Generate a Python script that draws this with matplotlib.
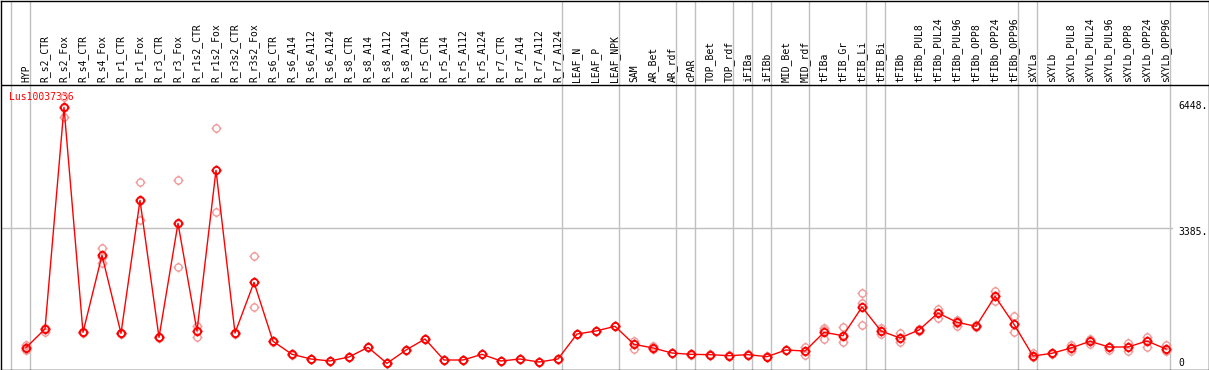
import matplotlib
matplotlib.use("Agg")
import matplotlib.pyplot as plt
from matplotlib.path import Path
import numpy as np

title = "Lus10037336"
categories = [
    "HYP", "R_s2_CTR", "R_s2_Fox", "R_s4_CTR", "R_s4_Fox", "R_r1_CTR", "R_r1_Fox",
    "R_r3_CTR", "R_r3_Fox", "R_r1s2_CTR", "R_r1s2_Fox", "R_r3s2_CTR", "R_r3s2_Fox",
    "R_s6_CTR", "R_s6_A14", "R_s6_A112", "R_s6_A124", "R_s8_CTR", "R_s8_A14",
    "R_s8_A112", "R_s8_A124", "R_r5_CTR", "R_r5_A14", "R_r5_A112", "R_r5_A124",
    "R_r7_CTR", "R_r7_A14", "R_r7_A112", "R_r7_A124", "LEAF_N", "LEAF_P", "LEAF_NPK",
    "SAM", "AR_Bet", "AR_rdf", "cPAR", "TOP_Bet", "TOP_rdf", "iFIBa", "iFIBb",
    "MID_Bet", "MID_rdf", "tFIBa", "tFIB_Gr", "tFIB_Li", "tFIB_Bi", "tFIBb",
    "tFIBb_PUL8", "tFIBb_PUL24", "tFIBb_PUL96", "tFIBb_OPP8", "tFIBb_OPP24",
    "tFIBb_OPP96", "sXYLa", "sXYLb", "sXYLb_PUL8", "sXYLb_PUL24", "sXYLb_PUL96",
    "sXYLb_OPP8", "sXYLb_OPP24", "sXYLb_OPP96",
]

mean_values = [
    492, 945, 6317, 865, 2730, 840, 4063, 743, 3506, 896, 4790, 848, 2076,
    647, 332, 218, 170, 267, 501, 113, 436, 703, 194, 194, 331, 170, 218, 145, 218,
    824, 897, 1010, 574, 485, 363, 331, 323, 299, 323, 275, 436, 412,
    864, 783, 1478, 897, 727, 921, 1333, 1107, 1010, 1737, 1059,
    291, 356, 485, 647, 509, 509, 654, 460,
]

replicate_a = [
    557, 960, 6560, 880, 2908, 850, 4499, 750, 4548, 1025, 5808, 860, 2706,
    655, 340, 218, 170, 267, 501, 113, 436, 703, 194, 194, 331, 170, 218, 145, 218,
    824, 897, 1010, 662, 533, 370, 340, 330, 310, 335, 280, 445, 501,
    977, 985, 1810, 962, 840, 940, 1430, 1163, 1030, 1866, 1267,
    356, 370, 565, 711, 520, 598, 759, 557,
]

replicate_b = [
    436, 880, 6074, 850, 2552, 830, 3586, 735, 2440, 759, 3772, 835, 1471,
    640, 325, 218, 170, 267, 501, 113, 436, 703, 194, 194, 331, 170, 218, 145, 218,
    824, 897, 1010, 468, 453, 355, 320, 315, 290, 310, 270, 430, 315,
    703, 638, 1042, 824, 620, 905, 1219, 1026, 990, 1623, 865,
    270, 340, 404, 582, 436, 404, 517, 412,
]

replicate_c = [
    500, 950, 6300, 870, 2700, 845, 4050, 745, 3500, 900, 4800, 850, 2080,
    650, 335, 218, 170, 267, 501, 113, 436, 703, 194, 194, 331, 170, 218, 145, 218,
    824, 897, 1010, 570, 490, 365, 330, 325, 300, 325, 275, 440, 410,
    921, 790, 1567, 900, 730, 920, 1330, 1100, 1010, 1740, 1060,
    290, 356, 490, 650, 510, 510, 650, 470,
]

group_starts = [0, 1, 29, 32, 35, 36, 38, 39, 40, 42, 45, 46, 53, 54, 61]
axis_labels = [6448, 3385, 0]
grid_value = 3385

W, H = 1209, 370
fig = plt.figure(figsize=(W / 100, H / 100), dpi=100)

px0, step = 26.0, 19.0
row0, scale = 368.0, 0.04127


def xd(px):
    return (px - px0) / step


def yd(row):
    return (row0 - row) / scale


ax = fig.add_axes([0.5 / W, 0.5 / H, 1208.0 / W, 369.0 / H])
ax.set_xlim(xd(0.5), xd(1208.5))
ax.set_ylim(yd(369.5), yd(0.5))
ax.set_xticks([])
ax.set_yticks([])
for s in ax.spines.values():
    s.set_color("black")
    s.set_linewidth(1.0)

grey = "#c0c0c0"
x = np.arange(len(categories))
off = 15.0 / step
for g in group_starts:
    ax.axvline(g - off, color=grey, lw=1.0, zorder=1)

ax.axhline(yd(85), color="black", lw=1.0, zorder=2)
ax.plot([xd(0.5), xd(1172)], [grid_value, grid_value], color=grey, lw=1.0, zorder=1)

mono = "DejaVu Sans Mono"
for i, lab in enumerate(categories):
    ax.text(i, yd(82.5), lab, rotation=90, ha="center", va="bottom",
            fontsize=7, family=mono, color="black")

ax.text(xd(9), yd(92), title, ha="left", va="top", fontsize=7, family=mono, color="red")

for v in axis_labels:
    if v == 0:
        ax.text(xd(1178), yd(367.5), "0", ha="left", va="bottom", fontsize=7, family=mono)
    else:
        ax.text(xd(1178), yd(row0 - v * scale - 1.0), f"{v}.", ha="left", va="top",
                fontsize=7, family=mono)

# circle marker with four short ticks outside
circ = Path.unit_circle()
t0, t1 = 1.0, 1.4
ticks = Path([(0, t0), (0, t1), (0, -t0), (0, -t1), (t0, 0), (t1, 0), (-t0, 0), (-t1, 0)],
             [Path.MOVETO, Path.LINETO] * 4)
tick_circle = Path.make_compound_path(circ, ticks)

rep_col = "#f09a9a"
for reps in (replicate_a, replicate_b, replicate_c):
    ax.plot(x, reps, ls="none", marker=tick_circle, ms=7.2, mfc="none", mec=rep_col,
            mew=1.0, zorder=3)

ax.plot(x, mean_values, color="red", lw=1.0, zorder=4)
ax.plot(x, mean_values, ls="none", marker=tick_circle, ms=7.2, mfc="none", mec="red",
        mew=1.3, zorder=5)

fig.savefig("out.png", dpi=100)
